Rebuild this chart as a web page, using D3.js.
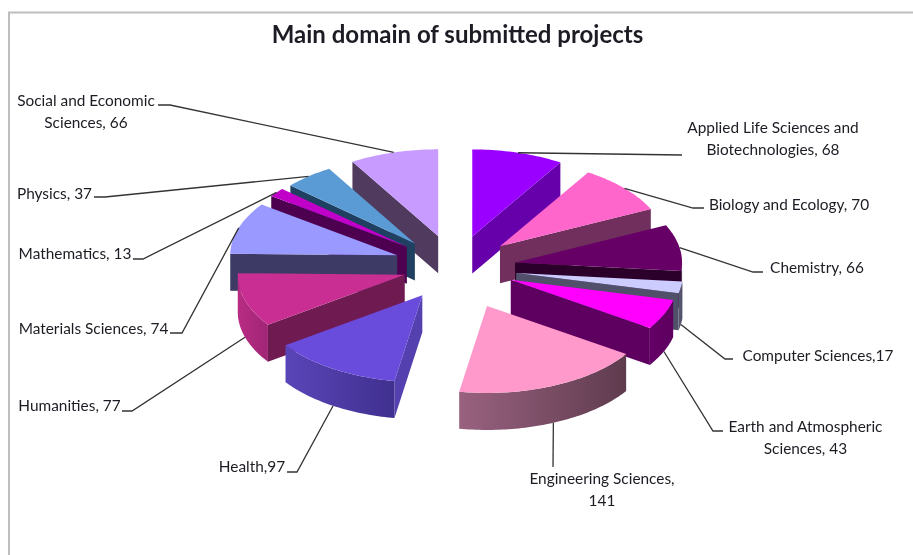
<!DOCTYPE html>
<html>
<head>
<meta charset="utf-8">
<script src="https://cdn.jsdelivr.net/npm/d3@7"></script>
<style>
    html, body { margin: 0; padding: 0; background: #fff; }
    svg { display: block; filter: blur(0.45px); }
    text { font-family: Lato, "Open Sans", sans-serif; fill: #1c1c24; }
</style>
</head>
<body>
<div id="chart"></div>
<script>
// Chart values, clockwise from twelve o'clock
const categories = ['Applied Life Sciences and Biotechnologies', 'Biology and Ecology', 'Chemistry',
    'Computer Sciences', 'Earth and Atmospheric Sciences', 'Engineering Sciences', 'Health',
    'Humanities', 'Materials Sciences', 'Mathematics', 'Physics', 'Social and Economic Sciences'];
const projects = [68, 70, 66, 17, 43, 141, 97, 77, 74, 13, 37, 66];
const labelRows = [
    ['Applied Life Sciences and', 'Biotechnologies, 68'],
    ['Biology and Ecology, 70'],
    ['Chemistry, 66'],
    ['Computer Sciences,17'],
    ['Earth and Atmospheric', 'Sciences, 43'],
    ['Engineering Sciences,', '141'],
    ['Health,97'],
    ['Humanities, 77'],
    ['Materials Sciences, 74'],
    ['Mathematics, 13'],
    ['Physics, 37'],
    ['Social and Economic', 'Sciences, 66']
];
const title = 'Main domain of submitted projects';

// Slice colours
const topColors = ['#9900ff', '#ff66cc', '#660066', '#ccccff', '#ff00ff', '#ff99cc',
    '#6a4cdc', '#c92f92', '#9999ff', '#c000c8', '#5b9bd5', '#c79bff'];
const wallColors = ['#6600aa', '#702f5c', '#2b002b', '#50506a', '#5e0060', '#603c50',
    '#5540b0', '#701a52', '#3d3a66', '#4d0050', '#1f4060', '#503a5e'];
const rimLight = ['#6600aa', '#702f5c', '#2b002b', '#5a5a72', '#640066', '#99627f',
    '#5a45b8', '#b82c84', '#3d3a66', '#4d0050', '#1f4060', '#503a5e'];
const rimDark = ['#6600aa', '#702f5c', '#2b002b', '#50506a', '#5e0060', '#5f3b4e',
    '#40308f', '#a02676', '#3d3a66', '#4d0050', '#1f4060', '#503a5e'];

// Pie geometry
const width = 913;
const height = 555;
const center = { x: 455, y: 272 };
const explode = { x: 63, y: 37 };
const radius = { x: 167, y: 87 };
const depth = 37;
// Excel moved each exploded slice a little differently
const nudgeX = [0, -2, -2, -1, -2, 7, 1, 10, 2, 1, 0, 0];
const nudgeY = [0, -1, -3, -5, -7, 0, -8, -8, -5, -2, 0, 0];

// Label placement: text centre, first baseline, leader elbow and leader end
const labelX = [773, 789, 817, 818, 805.5, 602, 252, 69.5, 93.5, 75, 54.5, 86];
const labelY = [133, 210, 273, 361, 432, 484, 472, 411, 334, 259, 199, 106];
const elbowX = [682, 693, 753, 725, 713, 553, 297, 132, 182, 143, 105, 170];
const elbowY = [155, 208, 272, 359, 431, 467, 472, 411, 333, 259, 197, 105];
const tailX = [682, 704, 763, 733, 723, 553, 287, 122, 170, 133, 94, 158];
const tailY = [155, 208, 272, 359, 431, 467, 472, 411, 333, 259, 197, 105];

const svg = d3.select('#chart')
    .append('svg')
    .attr('width', width)
    .attr('height', height);

// Chart area frame, only left and top edges are in the picture
svg.append('path')
    .attr('d', d3.line()([[9, height], [9, 12.5], [width, 12.5]]))
    .attr('fill', 'none')
    .attr('stroke', '#bdbdbd')
    .attr('stroke-width', 2);

svg.append('text')
    .attr('x', 457.5)
    .attr('y', 43)
    .attr('text-anchor', 'middle')
    .attr('font-weight', 'bold')
    .attr('font-size', 24)
    .text(title);

const pie = d3.pie().sort(null)(projects);
const line = d3.line();

const slices = pie.map((d, i) => {
    const mid = (d.startAngle + d.endAngle) / 2;
    return {
        i,
        start: d.startAngle,
        end: d.endAngle,
        mid,
        apex: {
            x: center.x + explode.x * Math.sin(mid) + nudgeX[i],
            y: center.y - explode.y * Math.cos(mid) + nudgeY[i]
        }
    };
});

// Point on the ellipse of a slice, dz pushes it down to the bottom face
function rimPoint(s, angle, dz = 0) {
    return [
        s.apex.x + radius.x * Math.sin(angle),
        s.apex.y - radius.y * Math.cos(angle) + dz
    ];
}

function rimPoints(s, from, to, dz = 0) {
    const steps = Math.max(2, Math.ceil((to - from) / 0.02));
    return d3.range(steps + 1).map(k => rimPoint(s, from + (to - from) * k / steps, dz));
}

function radialWall(s, angle) {
    return line([
        [s.apex.x, s.apex.y],
        rimPoint(s, angle),
        rimPoint(s, angle, depth),
        [s.apex.x, s.apex.y + depth]
    ]) + 'Z';
}

// Gradients for the curved outer walls
const defs = svg.append('defs');
slices.forEach(s => {
    const grad = defs.append('linearGradient').attr('id', `rim-${s.i}`);
    grad.append('stop').attr('offset', '0%').attr('stop-color', rimLight[s.i]);
    grad.append('stop').attr('offset', '100%').attr('stop-color', rimDark[s.i]);
});

// Back to front, so nearer slices cover the walls behind them
const order = slices.slice().sort((a, b) => d3.ascending(a.apex.y, b.apex.y));

order.forEach(s => {
    const g = svg.append('g').attr('class', 'slice');

    // Radial walls are seen only when they turn towards the viewer
    if (Math.sin(s.start) < 0) {
        g.append('path').attr('d', radialWall(s, s.start)).attr('fill', wallColors[s.i]);
    }
    if (Math.sin(s.end) > 0) {
        g.append('path').attr('d', radialWall(s, s.end)).attr('fill', wallColors[s.i]);
    }

    // Outer wall, front half of the ellipse only
    const from = Math.max(s.start, Math.PI / 2);
    const to = Math.min(s.end, Math.PI * 1.5);
    if (to > from) {
        const rim = rimPoints(s, from, to).concat(rimPoints(s, from, to, depth).reverse());
        g.append('path').attr('d', line(rim) + 'Z').attr('fill', `url(#rim-${s.i})`);
    }

    // Top face
    const face = [[s.apex.x, s.apex.y]].concat(rimPoints(s, s.start, s.end));
    g.append('path').attr('d', line(face) + 'Z').attr('fill', topColors[s.i]);
});

// Leader lines and labels
slices.forEach(s => {
    const front = s.mid > Math.PI / 2 && s.mid < Math.PI * 1.5;
    const anchor = rimPoint(s, s.mid, front ? depth : 0);
    svg.append('path')
        .attr('d', line([anchor, [elbowX[s.i], elbowY[s.i]], [tailX[s.i], tailY[s.i]]]))
        .attr('fill', 'none')
        .attr('stroke', '#333')
        .attr('stroke-width', 1.3);

    svg.append('g').selectAll('text')
        .data(labelRows[s.i])
        .enter()
        .append('text')
        .attr('x', labelX[s.i])
        .attr('y', (d, k) => labelY[s.i] + k * 22)
        .attr('text-anchor', 'middle')
        .attr('font-size', 15.4)
        .text(d => d);
});
</script>
</body>
</html>
